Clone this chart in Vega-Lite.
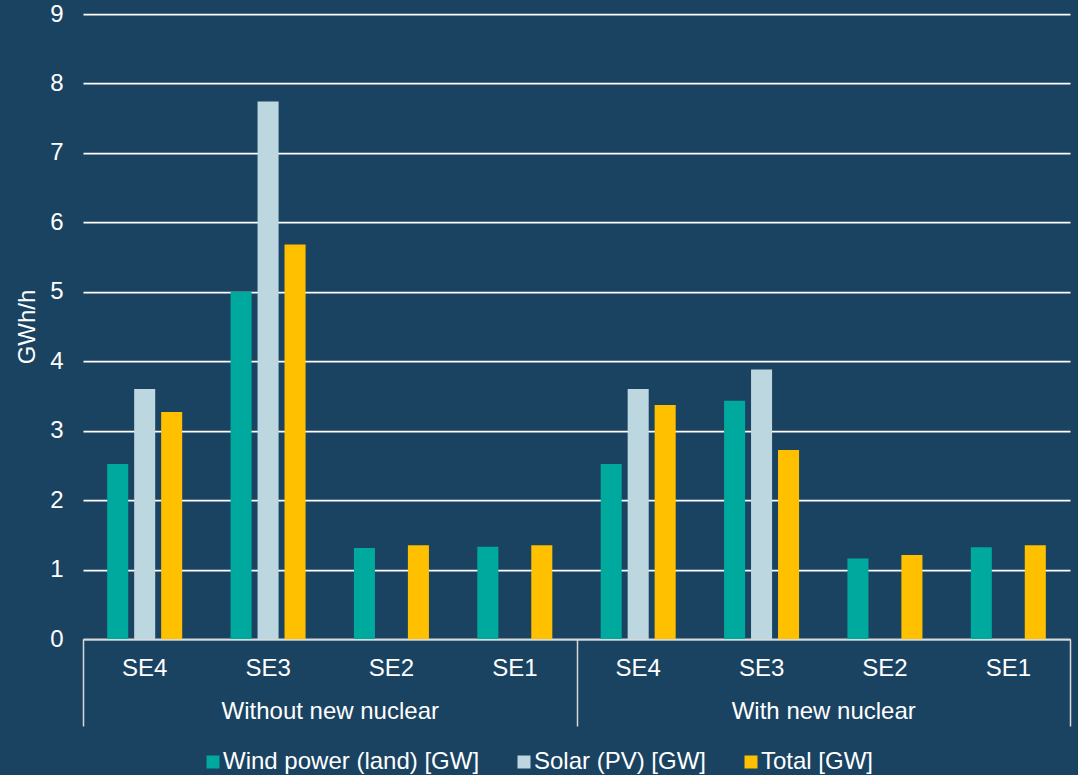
{
  "$schema": "https://vega.github.io/schema/vega-lite/v6.json",
  "autosize": {"type": "none"},
  "padding": {"left": 83, "top": 14, "right": 8, "bottom": 136},
  "width": 987,
  "height": 625,
  "background": "#1A4362",
  "config": {
    "view": {"stroke": null},
    "font": "Liberation Sans",
    "axis": {"labelFont": "Liberation Sans", "titleFont": "Liberation Sans"},
    "legend": {"labelFont": "Liberation Sans"}
  },
  "data": {
    "values": [
      {"key": "Without new nuclear|SE4", "scenario": "Without new nuclear", "region": "SE4", "series": "Wind power (land) [GW]", "value": 2.52},
      {"key": "Without new nuclear|SE4", "scenario": "Without new nuclear", "region": "SE4", "series": "Solar (PV) [GW]", "value": 3.60},
      {"key": "Without new nuclear|SE4", "scenario": "Without new nuclear", "region": "SE4", "series": "Total [GW]", "value": 3.27},
      {"key": "Without new nuclear|SE3", "scenario": "Without new nuclear", "region": "SE3", "series": "Wind power (land) [GW]", "value": 5.0},
      {"key": "Without new nuclear|SE3", "scenario": "Without new nuclear", "region": "SE3", "series": "Solar (PV) [GW]", "value": 7.74},
      {"key": "Without new nuclear|SE3", "scenario": "Without new nuclear", "region": "SE3", "series": "Total [GW]", "value": 5.68},
      {"key": "Without new nuclear|SE2", "scenario": "Without new nuclear", "region": "SE2", "series": "Wind power (land) [GW]", "value": 1.31},
      {"key": "Without new nuclear|SE2", "scenario": "Without new nuclear", "region": "SE2", "series": "Total [GW]", "value": 1.35},
      {"key": "Without new nuclear|SE1", "scenario": "Without new nuclear", "region": "SE1", "series": "Wind power (land) [GW]", "value": 1.33},
      {"key": "Without new nuclear|SE1", "scenario": "Without new nuclear", "region": "SE1", "series": "Total [GW]", "value": 1.35},
      {"key": "With new nuclear|SE4", "scenario": "With new nuclear", "region": "SE4", "series": "Wind power (land) [GW]", "value": 2.52},
      {"key": "With new nuclear|SE4", "scenario": "With new nuclear", "region": "SE4", "series": "Solar (PV) [GW]", "value": 3.60},
      {"key": "With new nuclear|SE4", "scenario": "With new nuclear", "region": "SE4", "series": "Total [GW]", "value": 3.37},
      {"key": "With new nuclear|SE3", "scenario": "With new nuclear", "region": "SE3", "series": "Wind power (land) [GW]", "value": 3.43},
      {"key": "With new nuclear|SE3", "scenario": "With new nuclear", "region": "SE3", "series": "Solar (PV) [GW]", "value": 3.88},
      {"key": "With new nuclear|SE3", "scenario": "With new nuclear", "region": "SE3", "series": "Total [GW]", "value": 2.72},
      {"key": "With new nuclear|SE2", "scenario": "With new nuclear", "region": "SE2", "series": "Wind power (land) [GW]", "value": 1.16},
      {"key": "With new nuclear|SE2", "scenario": "With new nuclear", "region": "SE2", "series": "Total [GW]", "value": 1.21},
      {"key": "With new nuclear|SE1", "scenario": "With new nuclear", "region": "SE1", "series": "Wind power (land) [GW]", "value": 1.32},
      {"key": "With new nuclear|SE1", "scenario": "With new nuclear", "region": "SE1", "series": "Total [GW]", "value": 1.35}
    ]
  },
  "layer": [
    {
      "mark": {"type": "bar", "opacity": 0},
      "encoding": {
        "x": {
          "field": "scenario",
          "type": "nominal",
          "sort": null,
          "scale": {"paddingInner": 0, "paddingOuter": 0},
          "axis": {
            "orient": "bottom",
            "title": null,
            "domain": false,
            "ticks": true,
            "tickBand": "extent",
            "tickSize": 87,
            "tickWidth": 1.5,
            "tickColor": "#D9D9D9",
            "labelPadding": -27,
            "labelFontSize": 24,
            "labelColor": "#FFFFFF",
            "labelAngle": 0,
            "labelLimit": 0,
            "grid": false
          }
        }
      }
    },
    {
      "mark": {"type": "bar"},
      "encoding": {
        "x": {
          "field": "key",
          "type": "nominal",
          "sort": null,
          "scale": {"paddingInner": 0.392, "paddingOuter": 0.196},
          "axis": {
            "orient": "bottom",
            "title": null,
            "labelExpr": "split(datum.label, '|')[1]",
            "ticks": false,
            "domain": true,
            "domainColor": "#D9D9D9",
            "domainWidth": 1.5,
            "labelPadding": 17,
            "labelFontSize": 24,
            "labelColor": "#FFFFFF",
            "labelAngle": 0,
            "grid": false
          }
        },
        "xOffset": {
          "field": "series",
          "type": "nominal",
          "scale": {
            "domain": ["Wind power (land) [GW]", "Solar (PV) [GW]", "Total [GW]"],
            "paddingInner": 0.22,
            "paddingOuter": 0
          }
        },
        "y": {
          "field": "value",
          "type": "quantitative",
          "scale": {"domain": [0, 9], "nice": false},
          "axis": {
            "title": "GWh/h",
            "titleFontSize": 24,
            "titleFontWeight": "normal",
            "titleColor": "#FFFFFF",
            "titlePadding": 10,
            "values": [0, 1, 2, 3, 4, 5, 6, 7, 8, 9],
            "labelFontSize": 24,
            "labelColor": "#FFFFFF",
            "labelPadding": 20,
            "ticks": false,
            "domain": false,
            "grid": true,
            "gridColor": "#FFFFFF",
            "gridWidth": 1.75
          }
        },
        "color": {
          "field": "series",
          "type": "nominal",
          "scale": {
            "domain": ["Wind power (land) [GW]", "Solar (PV) [GW]", "Total [GW]"],
            "range": ["#00A99D", "#BDD7E0", "#FFC000"]
          },
          "legend": {
            "title": null,
            "orient": "none",
            "direction": "horizontal",
            "legendX": 118,
            "legendY": 736,
            "padding": 0,
            "symbolType": "square",
            "symbolSize": 169,
            "symbolStrokeWidth": 0,
            "symbolOpacity": 1,
            "labelFontSize": 24,
            "labelColor": "#FFFFFF",
            "labelOffset": -2,
            "labelLimit": 400,
            "columnPadding": 32
          }
        }
      }
    }
  ],
  "resolve": {"scale": {"x": "independent"}, "axis": {"x": "independent"}}
}
